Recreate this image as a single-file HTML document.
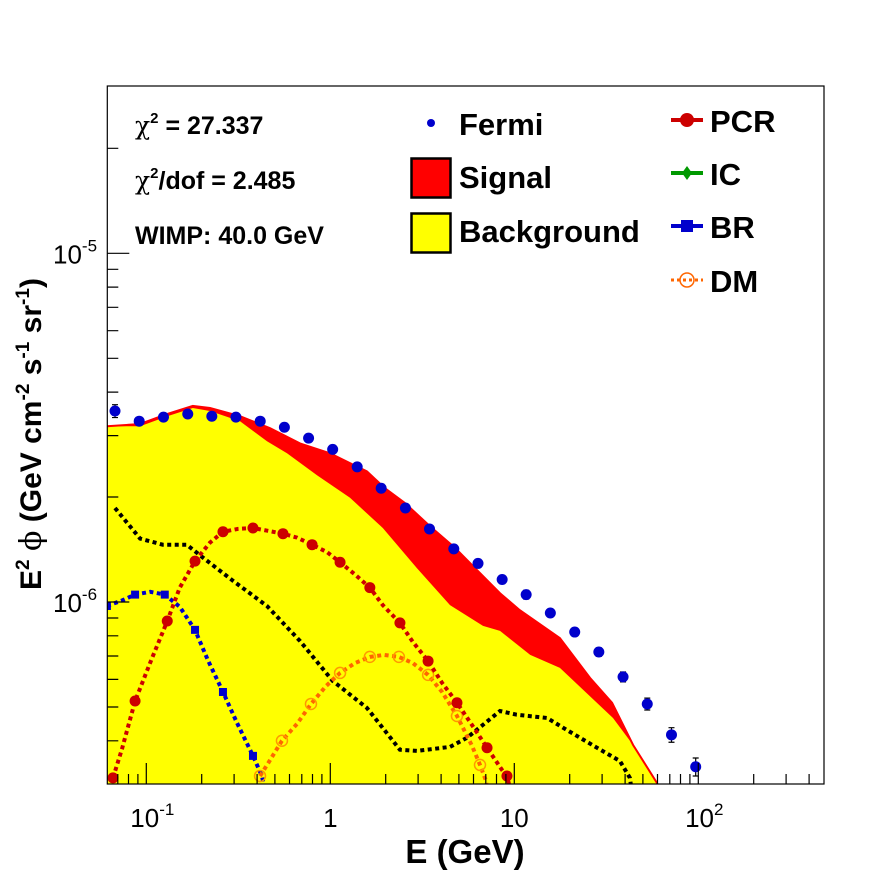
<!DOCTYPE html>
<html><head><meta charset="utf-8"><title>Spectrum fit</title>
<style>
html,body{margin:0;padding:0;background:#fff;}
svg{display:block;font-family:"Liberation Sans",Arial,sans-serif;}
</style></head>
<body>
<svg id="chart" width="896" height="872" viewBox="0 0 896 872" xmlns="http://www.w3.org/2000/svg">
<defs><clipPath id="plotclip"><rect x="107.3" y="86" width="716.7" height="698"/></clipPath></defs>
<rect x="107.3" y="86" width="716.7" height="698" fill="#fff"/>
<g id="marks" clip-path="url(#plotclip)"></g>
<rect x="107.3" y="86" width="716.7" height="698" fill="none" stroke="#000" stroke-width="1.2"/>
<g id="axes"></g>

<g font-weight="bold" font-size="25">
<text x="135" y="134"><tspan font-family="'DejaVu Serif',serif" font-weight="normal">χ</tspan><tspan font-size="15" dy="-11">2</tspan><tspan dy="11"> = 27.337</tspan></text>
<text x="135" y="189"><tspan font-family="'DejaVu Serif',serif" font-weight="normal">χ</tspan><tspan font-size="15" dy="-11">2</tspan><tspan dy="11">/dof = 2.485</tspan></text>
<text x="135" y="244">WIMP: 40.0 GeV</text>
</g>

<g font-weight="bold" font-size="31">
<g><circle cx="431" cy="123" r="4" fill="#0000cc"/><text x="459" y="135">Fermi</text></g>
<g><rect x="411.5" y="158.5" width="39" height="39" fill="#ff0000" stroke="#000" stroke-width="2.5"/><text x="459" y="188">Signal</text></g>
<g><rect x="411.5" y="213.5" width="39" height="39" fill="#ffff00" stroke="#000" stroke-width="2.5"/><text x="459" y="242">Background</text></g>
<g><line x1="671" y1="120" x2="703" y2="120" stroke="#cc0000" stroke-width="4"/><circle cx="687" cy="120" r="7" fill="#cc0000"/><text x="710" y="132">PCR</text></g>
<g><line x1="671" y1="173" x2="703" y2="173" stroke="#009900" stroke-width="4"/><path d="M687 166 L692 173 L687 180 L682 173Z" fill="#009900"/><text x="710" y="185">IC</text></g>
<g><line x1="671" y1="226" x2="703" y2="226" stroke="#0000cc" stroke-width="4"/><rect x="681" y="220" width="12" height="12" fill="#0000cc"/><text x="710" y="238">BR</text></g>
<g><line x1="671" y1="280" x2="703" y2="280" stroke="#ff6600" stroke-width="3" stroke-dasharray="3,3"/><circle cx="687" cy="280" r="7" fill="none" stroke="#ff6600" stroke-width="1.5"/><text x="710" y="292">DM</text></g>
</g>

<text x="465" y="863" text-anchor="middle" font-weight="bold" font-size="33">E (GeV)</text>
<text transform="translate(41,434) rotate(-90)" text-anchor="middle" font-weight="bold" font-size="30">E<tspan font-size="19" dy="-12">2</tspan><tspan dy="12"> </tspan><tspan font-family="'DejaVu Serif',serif" font-weight="normal">ϕ</tspan> (GeV cm<tspan font-size="19" dy="-12">-2</tspan><tspan dy="12"> s</tspan><tspan font-size="19" dy="-12">-1</tspan><tspan dy="12"> sr</tspan><tspan font-size="19" dy="-12">-1</tspan><tspan dy="12">)</tspan></text>
</svg>
<script>
// ---- data (E in GeV, flux in units of 1e-6 GeV cm^-2 s^-1 sr^-1) ----
var fermiE = [0.0676,0.0915,0.124,0.168,0.227,0.307,0.416,0.563,0.762,1.03,1.40,1.89,2.56,3.46,4.69,6.35,8.59,11.6,15.7,21.3,28.8,39.0,52.8,71.5,96.8];
var fermiF = [3.53,3.30,3.39,3.46,3.41,3.39,3.30,3.17,2.95,2.74,2.44,2.12,1.86,1.62,1.42,1.29,1.16,1.05,0.930,0.820,0.719,0.610,0.510,0.416,0.337];
var fermiErr = [0.15,0.08,0.07,0.07,0.06,0.06,0.06,0.06,0.05,0.05,0.04,0.04,0.04,0.03,0.03,0.03,0.03,0.03,0.02,0.02,0.02,0.02,0.02,0.02,0.02];
var bkgE = [0.0611,0.0925,0.130,0.179,0.222,0.323,0.453,0.582,0.847,1.28,1.93,2.96,4.47,6.76,8.36,12.2,17.7,34.4,44.2,59.6,68.4];
var bkgF = [3.19,3.19,3.41,3.60,3.53,3.30,2.89,2.67,2.31,1.99,1.63,1.25,0.980,0.854,0.826,0.705,0.647,0.465,0.389,0.303,0.25];
var totE = [0.0611,0.0925,0.130,0.179,0.222,0.323,0.470,0.684,0.996,1.28,1.58,1.98,2.55,3.48,4.76,6.51,8.36,10.7,17.7,25.8,34.0,44.2,59.6,68.4];
var totF = [3.19,3.24,3.46,3.65,3.60,3.41,3.15,2.85,2.67,2.50,2.37,2.12,1.92,1.65,1.43,1.21,1.06,0.948,0.788,0.606,0.514,0.389,0.303,0.25];
var blackE = [0.0676,0.0925,0.123,0.166,0.196,0.296,0.453,0.684,1.03,1.58,2.39,2.96,4.47,5.53,8.36,10.3,15.1,18.4,28.1,37.5,42.5,44.2];
var blackF = [1.86,1.52,1.46,1.46,1.36,1.15,0.974,0.773,0.594,0.497,0.377,0.374,0.384,0.408,0.487,0.475,0.465,0.436,0.382,0.350,0.313,0.27];
var pcrE = [0.0659,0.0738,0.0869,0.107,0.130,0.152,0.184,0.222,0.261,0.315,0.380,0.458,0.553,0.659,0.796,0.960,1.13,1.36,1.64,1.93,2.39,2.81,3.40,4.05,4.88,5.89,7.11,8.57,9.12,9.71];
var pcrF = [0.313,0.379,0.520,0.687,0.882,1.10,1.31,1.48,1.59,1.62,1.63,1.60,1.57,1.53,1.46,1.39,1.30,1.20,1.10,0.980,0.871,0.768,0.677,0.586,0.514,0.444,0.382,0.330,0.317,0.28];
var brE = [0.0611,0.0738,0.0869,0.105,0.126,0.152,0.184,0.216,0.261,0.311,0.380,0.425,0.447];
var brF = [0.974,1.01,1.05,1.07,1.05,0.968,0.832,0.682,0.552,0.450,0.362,0.317,0.28];
var dmE = [0.415,0.458,0.546,0.659,0.785,0.948,1.13,1.36,1.64,1.96,2.36,2.81,3.40,4.05,4.88,5.89,6.51,7.02,7.19];
var dmF = [0.317,0.344,0.400,0.447,0.510,0.574,0.626,0.668,0.696,0.705,0.696,0.668,0.618,0.552,0.471,0.387,0.341,0.307,0.28];
var xMajorTicks = [0.1,1,10,100];
var xTickLabels = ["10","1","10","10"];
var xTickSups = ["-1","","","2"];
var yMajorTicks = [1e-6,1e-5];
var yTickSups = ["-6","-5"];

// ---- axis functions ----
var X0=330.3, XD=184, Y0=602, YD=348.7, LEFT=107.3, RIGHT=824, TOP=86, BOTTOM=784;
function xs(e){return X0+XD*Math.log10(e);}
function ys(f){return Y0-YD*(Math.log10(f*1e-6)+6);}
function ysAbs(v){return Y0-YD*(Math.log10(v)+6);}
var NS="http://www.w3.org/2000/svg";
var marks=document.getElementById('marks');
var axes=document.getElementById('axes');
function mk(tag,attrs,parent){var el=document.createElementNS(NS,tag);for(var k in attrs)el.setAttribute(k,attrs[k]);parent.appendChild(el);return el;}
function pts(E,F){return E.map(function(e,i){return xs(e).toFixed(1)+','+ys(F[i]).toFixed(1);}).join(' ');}

var sig=mk('polygon',{points:pts(totE,totF)+' '+xs(totE[totE.length-1]).toFixed(1)+','+(BOTTOM+20)+' '+LEFT+','+(BOTTOM+20),fill:'#ff0000'},marks);


var bkg=mk('polygon',{points:pts(bkgE,bkgF)+' '+xs(bkgE[bkgE.length-1]).toFixed(1)+','+(BOTTOM+20)+' '+LEFT+','+(BOTTOM+20),fill:'#ffff00'},marks);


var tl=mk('polyline',{points:pts(totE,totF),fill:'none',stroke:'#ff0000','stroke-width':2},marks);



function dotted(E,F,color,name){
  var l=mk('polyline',{points:pts(E,F),fill:'none',stroke:color,'stroke-width':4,'stroke-dasharray':'4,3.5'},marks);
  
  
  return l;
}
dotted(blackE,blackF,'#000','extra-component-line');
dotted(brE,brF,'#0000cc','br-line');
brE.forEach(function(e,i){
  if(i%2)return;
  var r=mk('rect',{x:xs(e)-4,y:ys(brF[i])-4,width:8,height:8,fill:'#0000cc'},marks);
  
  
});
dotted(dmE,dmF,'#ff6600','dm-line');
dmE.forEach(function(e,i){
  if(i%2)return;
  var c=mk('circle',{cx:xs(e),cy:ys(dmF[i]),r:5.5,fill:'none',stroke:'#ff9900','stroke-width':1.5},marks);
  
  
});
dotted(pcrE,pcrF,'#cc0000','pcr-line');
pcrE.forEach(function(e,i){
  if(i%2)return;
  var c=mk('circle',{cx:xs(e),cy:ys(pcrF[i]),r:5.5,fill:'#cc0000'},marks);
  
  
});
fermiE.forEach(function(e,i){
  var x=xs(e), y1=ys(fermiF[i]+fermiErr[i]), y2=ys(fermiF[i]-fermiErr[i]);
  var eb=mk('path',{d:'M'+x+' '+y1+'V'+y2+'M'+(x-3)+' '+y1+'H'+(x+3)+'M'+(x-3)+' '+y2+'H'+(x+3),stroke:'#000','stroke-width':1.2,fill:'none'},marks);
  
  
  var c=mk('circle',{cx:x,cy:ys(fermiF[i]),r:5.5,fill:'#0000cc'},marks);
  
  
});

var d='';
for(var p=-2;p<=3;p++){for(var m=1;m<=9;m++){var v=m*Math.pow(10,p);var x=xs(v);if(x<LEFT||x>RIGHT)continue;var len=(m===1)?21:10;d+='M'+x.toFixed(1)+' '+BOTTOM+'V'+(BOTTOM-len);}}
for(var p=-7;p<=-4;p++){for(var m=1;m<=9;m++){var v=m*Math.pow(10,p);var y=ysAbs(v);if(y<TOP+1||y>BOTTOM)continue;var len=(m===1)?22:11;d+='M'+LEFT+' '+y.toFixed(1)+'H'+(LEFT+len);}}
var tk=mk('path',{d:d,stroke:'#000','stroke-width':1.2,fill:'none'},axes);


xMajorTicks.forEach(function(v,i){
  var t=mk('text',{x:xs(v),y:827,'text-anchor':'middle','font-size':26},axes);
  
  
  t.textContent=xTickLabels[i];
  if(xTickSups[i]){var s=mk('tspan',{'font-size':17,dy:-12},t);s.textContent=xTickSups[i];t.setAttribute('x',xs(v)+6);}
});
yMajorTicks.forEach(function(v,i){
  var t=mk('text',{x:53,y:ysAbs(v)+10,'font-size':26},axes);
  
  
  t.textContent='10';
  var s=mk('tspan',{'font-size':17,dy:-12},t);s.textContent=yTickSups[i];
});
</script>
</body></html>
